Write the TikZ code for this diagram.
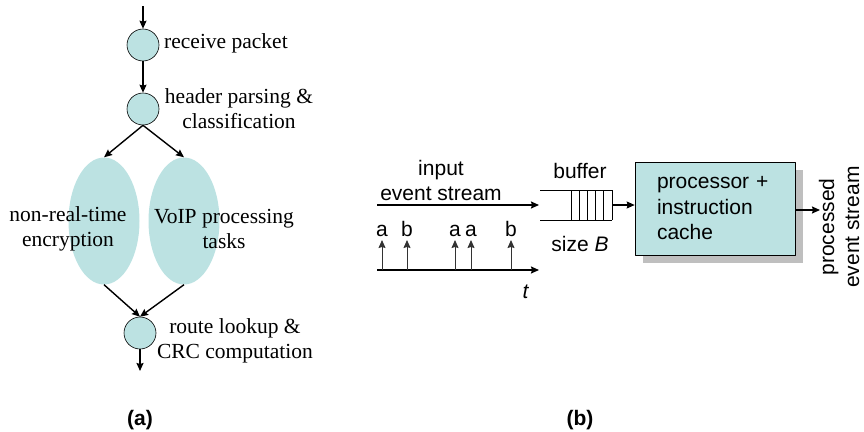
\documentclass[tikz,border=0pt]{standalone}
\usepackage{fontspec}
\setmainfont{Liberation Serif}
\setsansfont{Liberation Sans}
\usetikzlibrary{shapes.geometric,shadows,arrows.meta}
\definecolor{tealfill}{HTML}{BCE2E2}
\definecolor{shadowgray}{HTML}{BFBFBF}
\begin{document}
\begin{tikzpicture}[x=1pt, y=-1pt, >={Stealth[length=8pt, width=7pt, inset=1pt]}, line join=round,
	task/.style={circle, draw, line width=0.6pt, fill=tealfill, minimum size=32pt, inner sep=0pt},
	blob/.style={ellipse, fill=tealfill, minimum width=71pt, minimum height=127pt, inner sep=0pt},
	rmlabel/.style={font=\fontsize{21.5}{25}\selectfont, align=center, inner sep=0pt},
	sflabel/.style={font=\sffamily\fontsize{21}{25}\selectfont, align=center, inner sep=0pt},
	flow/.style={->, line width=1.4pt},
	tick/.style={-{Stealth[length=8pt, width=7pt, inset=1pt]}, line width=1pt, black!80}]
	\useasboundingbox (0,0) rectangle (864,431);
	% (a) packet processing tasks
	\coordinate (pin) at (143,6);
	\node[task] (recv) at (143,45) {};
	\node[task] (parse) at (143,109) {};
	\node[blob] (nrt) at (104,221) {};
	\node[blob] (voip) at (184,221) {};
	\node[task] (route) at (140,333) {};
	\coordinate (pout) at (140,371);
	\node[rmlabel, anchor=west] (recvlbl) at (164,43) {receive packet};
	\node[rmlabel] (parselbl) at (239,109) {header parsing \&\\classification};
	\node[rmlabel] (nrtlbl) at (68,229) {non-real-time\\encryption};
	\node[rmlabel] (voiplbl) at (224,229) {VoIP processing\\tasks};
	\node[rmlabel] (routelbl) at (235,341) {route lookup \&\\CRC computation};
	\draw[flow] (pin) -- (recv);
	\draw[flow] (recv) -- (parse);
	\draw[flow] (parse.south) -- (nrt.north);
	\draw[flow] (parse.south) -- (voip.north);
	\draw[flow] (nrt.south) -- (route.north);
	\draw[flow] (voip.south) -- (route.north);
	\draw[flow] (route) -- (pout);
	\node[sflabel, font=\sffamily\bfseries\fontsize{21}{25}\selectfont] (capa) at (140,420) {(a)};
	% (b) event stream model
	\node[sflabel] (inlbl) at (441,180) {input\\event stream};
	\coordinate (sin) at (377,205);
	\coordinate (bufin) at (539,205);
	\draw[flow] (sin) -- (bufin);
	\draw[line width=1pt] (540,190) -- (612,190) (540,220) -- (612,220);
	\foreach \bx in {571,579.2,587.4,595.6,603.8,612}
	\draw[line width=1pt] (\bx,190) -- (\bx,220);
	\coordinate (bufout) at (612,205);
	\node[sflabel] (buflbl) at (580,171) {buffer};
	\node[sflabel] (sizelbl) at (580,244) {size \textit{B}};
	\node[draw, line width=0.6pt, fill=tealfill, minimum width=160pt, minimum height=93pt,
	text width=116pt, align=left, inner sep=0pt, font=\sffamily\fontsize{21}{25.5}\selectfont,
	drop shadow={shadow xshift=8pt, shadow yshift=-8pt, fill=shadowgray, opacity=1}]
	(cpu) at (715,208.5) {processor +\\instruction\\cache};
	\draw[flow] (bufout) -- (cpu.west |- bufout);
	\coordinate (cout) at (820,210);
	\draw[flow] (cpu.east |- cout) -- (cout);
	\node[sflabel, rotate=90] (outlbl) at (839,227) {processed\\event stream};
	\coordinate (t0) at (377,270);
	\coordinate (t1) at (539,270);
	\draw[flow] (t0) -- (t1);
	\node[sflabel] (tlbl) at (526,292) {\textit{t}};
	\foreach \ex/\ev in {382/a, 407/b, 455/a, 471/a, 511/b}
	\draw[tick] (\ex,270) -- (\ex,240) node[sflabel, anchor=base, black] at (\ex,236) {\ev};
	\node[sflabel, font=\sffamily\bfseries\fontsize{21}{25}\selectfont] (capb) at (580,420) {(b)};
\end{tikzpicture}
\end{document}
